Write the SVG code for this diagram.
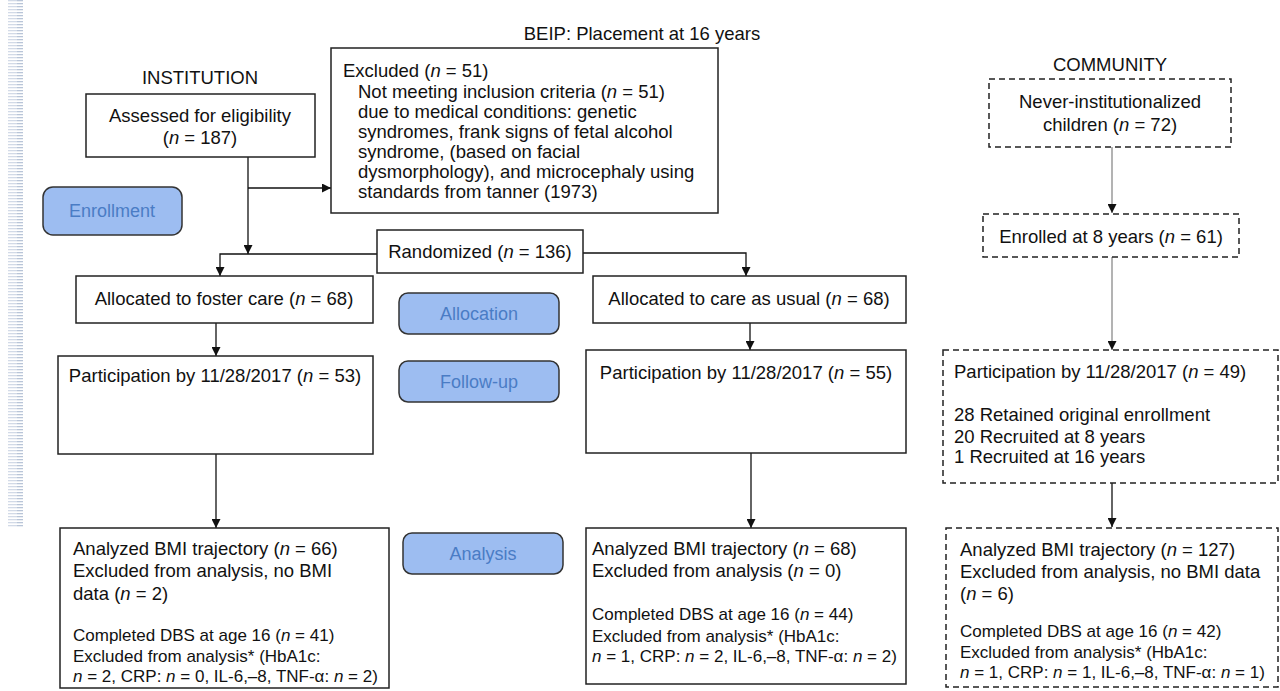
<svg xmlns="http://www.w3.org/2000/svg" width="1280" height="691" viewBox="0 0 1280 691">
<defs>
<marker id="arr" viewBox="0 0 10 10" refX="10" refY="5" markerWidth="9" markerHeight="9" markerUnits="userSpaceOnUse" orient="auto">
<path d="M0,0 L10,5 L0,10 z" fill="#111"/>
</marker>
<pattern id="stripe" width="17" height="3" patternUnits="userSpaceOnUse">
<rect x="0" y="0" width="6" height="1.3" fill="#b9c5d8"/>
<rect x="8" y="0" width="9" height="1.3" fill="#d2dae7"/>
</pattern>
<style>
text{font-family:"Liberation Sans",Arial,Helvetica,sans-serif;font-size:18.5px;fill:#111}
.sm{font-size:17px}
.c{text-anchor:middle}
.i{font-style:italic}
.box{fill:#fff;stroke:#222;stroke-width:1.5}
.dbox{fill:#fff;stroke:#222;stroke-width:1.5;stroke-dasharray:6 4}
.btn{fill:#9dbdf1;stroke:#333;stroke-width:1.5}
.btxt{fill:#4a7cc5;font-size:18px;text-anchor:middle}
.ln{fill:none;stroke:#111;stroke-width:1.3}
.gl{fill:none;stroke:#8a8a8a;stroke-width:1.3}
</style>
</defs>
<rect width="1280" height="691" fill="#fff"/>
<rect x="8" y="0" width="17" height="527" fill="url(#stripe)"/>

<text id="title" class="c" x="642" y="40">BEIP: Placement at 16 years</text>
<text id="lbl-institution" class="c" x="200" y="84">INSTITUTION</text>
<text id="lbl-community" class="c" x="1110" y="71">COMMUNITY</text>

<g id="connectors">
<path class="ln" d="M248,157 V254" marker-end="url(#arr)"/>
<path class="ln" d="M248,188 H331" marker-end="url(#arr)"/>
<path class="ln" d="M377,254 H220 V276" marker-end="url(#arr)"/>
<path class="ln" d="M583,253 H746 V276" marker-end="url(#arr)"/>
<path class="ln" d="M216,323 V356" marker-end="url(#arr)"/>
<path class="ln" d="M750,323 V350" marker-end="url(#arr)"/>
<path class="ln" d="M216,454 V528" marker-end="url(#arr)"/>
<path class="ln" d="M751,453 V528" marker-end="url(#arr)"/>
<path class="gl" d="M1112,147 V213" marker-end="url(#arr)"/>
<path class="gl" d="M1112,257 V350" marker-end="url(#arr)"/>
<path class="ln" d="M1112,483 V527" marker-end="url(#arr)"/>
</g>

<g id="assessed">
<rect class="box" x="86" y="94" width="229" height="63"/>
<text class="c" x="200" y="122">Assessed for eligibility</text>
<text class="c" x="200" y="144">(<tspan class="i">n</tspan> = 187)</text>
</g>

<g id="excluded">
<rect class="box" x="331" y="48" width="387" height="165"/>
<text x="343" y="77">Excluded (<tspan class="i">n</tspan> = 51)</text>
<text x="358" y="98">Not meeting inclusion criteria (<tspan class="i">n</tspan> = 51)</text>
<text x="358" y="118">due to medical conditions: genetic</text>
<text x="358" y="138">syndromes, frank signs of fetal alcohol</text>
<text x="358" y="158">syndrome, (based on facial</text>
<text x="358" y="178">dysmorphology), and microcephaly using</text>
<text x="358" y="198">standards from tanner (1973)</text>
</g>

<g id="enrollment">
<rect class="btn" x="43" y="187" width="139" height="48" rx="10"/>
<text class="btxt" x="112" y="217">Enrollment</text>
</g>

<g id="randomized">
<rect class="box" x="377" y="230" width="206" height="43"/>
<text class="c" x="480" y="258">Randomized (<tspan class="i">n</tspan> = 136)</text>
</g>

<g id="allocated-foster">
<rect class="box" x="76" y="276" width="297" height="47"/>
<text class="c" x="224" y="305">Allocated to foster care (<tspan class="i">n</tspan> = 68)</text>
</g>

<g id="allocation">
<rect class="btn" x="399" y="293" width="160" height="41" rx="9"/>
<text class="btxt" x="479" y="320">Allocation</text>
</g>

<g id="allocated-cau">
<rect class="box" x="593" y="276" width="313" height="47"/>
<text class="c" x="749" y="305">Allocated to care as usual (<tspan class="i">n</tspan> = 68)</text>
</g>

<g id="participation-foster">
<rect class="box" x="58" y="356" width="315" height="98"/>
<text class="c" x="215" y="382">Participation by 11/28/2017 (<tspan class="i">n</tspan> = 53)</text>
</g>

<g id="followup">
<rect class="btn" x="399" y="361" width="160" height="41" rx="9"/>
<text class="btxt" x="479" y="388">Follow-up</text>
</g>

<g id="participation-cau">
<rect class="box" x="586" y="350" width="320" height="103"/>
<text class="c" x="746" y="379">Participation by 11/28/2017 (<tspan class="i">n</tspan> = 55)</text>
</g>

<g id="analysis-foster">
<rect class="box" x="60" y="528" width="329" height="160"/>
<text x="73" y="555">Analyzed BMI trajectory (<tspan class="i">n</tspan> = 66)</text>
<text x="73" y="577">Excluded from analysis, no BMI</text>
<text x="73" y="600">data (<tspan class="i">n</tspan> = 2)</text>
<text class="sm" x="73" y="641">Completed DBS at age 16 (<tspan class="i">n</tspan> = 41)</text>
<text class="sm" x="73" y="662">Excluded from analysis* (HbA1c:</text>
<text class="sm" x="73" y="682"><tspan class="i">n</tspan> = 2, CRP: <tspan class="i">n</tspan> = 0, IL-6,–8, TNF-α: <tspan class="i">n</tspan> = 2)</text>
</g>

<g id="analysis-btn">
<rect class="btn" x="403" y="533" width="160" height="41" rx="9"/>
<text class="btxt" x="483" y="560">Analysis</text>
</g>

<g id="analysis-cau">
<rect class="box" x="586" y="528" width="320" height="156"/>
<text x="592" y="555">Analyzed BMI trajectory (<tspan class="i">n</tspan> = 68)</text>
<text x="592" y="577">Excluded from analysis (<tspan class="i">n</tspan> = 0)</text>
<text class="sm" x="592" y="620">Completed DBS at age 16 (<tspan class="i">n</tspan> = 44)</text>
<text class="sm" x="592" y="642">Excluded from analysis* (HbA1c:</text>
<text class="sm" x="592" y="662"><tspan class="i">n</tspan> = 1, CRP: <tspan class="i">n</tspan> = 2, IL-6,–8, TNF-α: <tspan class="i">n</tspan> = 2)</text>
</g>

<g id="never-institutionalized">
<rect class="dbox" x="989" y="79" width="242" height="68"/>
<text class="c" x="1110" y="108">Never-institutionalized</text>
<text class="c" x="1110" y="131">children (<tspan class="i">n</tspan> = 72)</text>
</g>

<g id="enrolled-8">
<rect class="dbox" x="983" y="214" width="256" height="43"/>
<text class="c" x="1111" y="243">Enrolled at 8 years (<tspan class="i">n</tspan> = 61)</text>
</g>

<g id="participation-community">
<rect class="dbox" x="943" y="350" width="335" height="133"/>
<text x="954" y="378">Participation by 11/28/2017 (<tspan class="i">n</tspan> = 49)</text>
<text x="954" y="421">28 Retained original enrollment</text>
<text x="954" y="443">20 Recruited at 8 years</text>
<text x="954" y="463">1 Recruited at 16 years</text>
</g>

<g id="analysis-community">
<rect class="dbox" x="946" y="528" width="332" height="159"/>
<text x="960" y="556">Analyzed BMI trajectory (<tspan class="i">n</tspan> = 127)</text>
<text x="960" y="578">Excluded from analysis, no BMI data</text>
<text x="960" y="600">(<tspan class="i">n</tspan> = 6)</text>
<text class="sm" x="960" y="637">Completed DBS at age 16 (<tspan class="i">n</tspan> = 42)</text>
<text class="sm" x="960" y="658">Excluded from analysis* (HbA1c:</text>
<text class="sm" x="960" y="678"><tspan class="i">n</tspan> = 1, CRP: <tspan class="i">n</tspan> = 1, IL-6,–8, TNF-α: <tspan class="i">n</tspan> = 1)</text>
</g>
</svg>
